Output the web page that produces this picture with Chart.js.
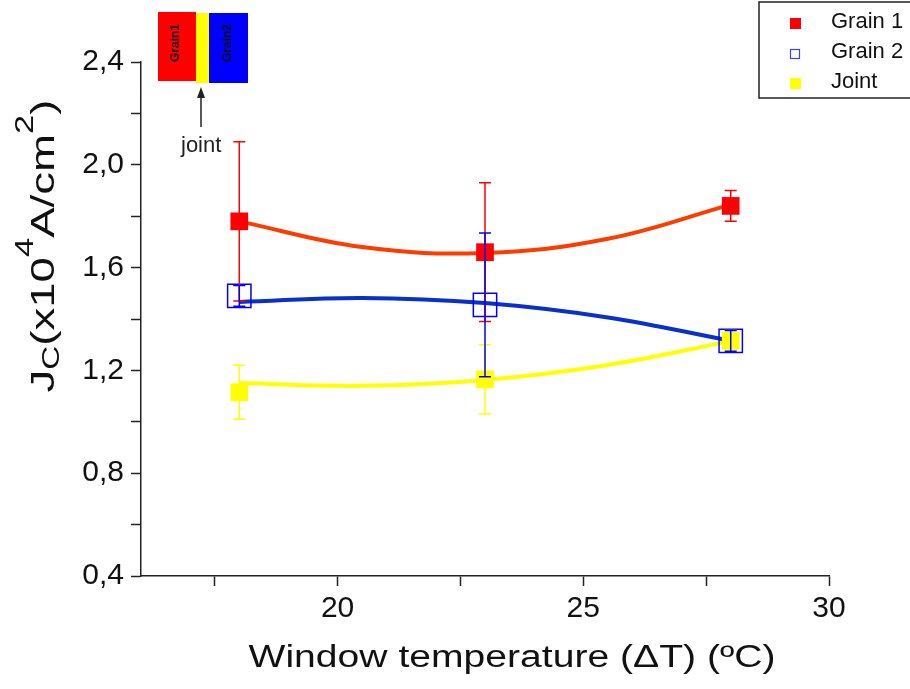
<!DOCTYPE html>
<html>
<head>
<meta charset="utf-8">
<script src="https://cdn.jsdelivr.net/npm/chart.js@4.4.1/dist/chart.umd.min.js"></script>
<style>
  body { margin: 0; background: #fff; }
</style>
</head>
<body>
<canvas id="myChart" width="910" height="689"></canvas>
<script>
// measured points
const temps = [18, 23, 28];
const grain1 = [1.78, 1.66, 1.84];
const grain1Err = [0.31, 0.27, 0.06];
const grain2 = [1.49, 1.455, 1.315];
const grain2Err = [0.04, 0.28, 0.04];
const joint = [1.115, 1.165, 1.315];
const jointErr = [0.105, 0.135, 0.04];

// fitted curves
const fitTemps = [18, 20.5, 23, 25.5, 28];
const grain1Fit = [1.78, 1.68, 1.657, 1.712, 1.845];
const grain2Fit = [1.466, 1.482, 1.462, 1.406, 1.315];
const jointFit = [1.151, 1.14, 1.163, 1.221, 1.314];

const legendItems = ['Grain 1', 'Grain 2', 'Joint'];

const pts = (xs, ys) => xs.map((x, i) => ({ x: x, y: ys[i] }));

const errorBars = {
  id: 'errorBars',
  afterDatasetsDraw(chart) {
    const { ctx, scales: { x, y } } = chart;
    chart.data.datasets.forEach((ds) => {
      if (!ds.errors) return;
      ctx.save();
      ctx.strokeStyle = ds.errorColor;
      ctx.lineWidth = 1.5;
      ds.data.forEach((p, i) => {
        const px = x.getPixelForValue(p.x);
        const top = y.getPixelForValue(p.y + ds.errors[i]);
        const bot = y.getPixelForValue(p.y - ds.errors[i]);
        ctx.beginPath();
        ctx.moveTo(px, top); ctx.lineTo(px, bot);
        ctx.moveTo(px - 6, top); ctx.lineTo(px + 6, top);
        ctx.moveTo(px - 6, bot); ctx.lineTo(px + 6, bot);
        ctx.stroke();
      });
      ctx.restore();
    });
  }
};

const extras = {
  id: 'extras',
  afterDraw(chart) {
    const ctx = chart.ctx;
    ctx.save();
    ctx.fillStyle = '#111';

    // x title
    ctx.font = '31px "Liberation Sans", Arial, sans-serif';
    const xt = 'Window temperature (\u0394T) (\u00baC)';
    const xw = ctx.measureText(xt).width;
    ctx.save();
    ctx.translate(512, 667);
    ctx.scale(527 / xw, 1);
    ctx.textAlign = 'center';
    ctx.textBaseline = 'alphabetic';
    ctx.fillText(xt, 0, 0);
    ctx.restore();

    // y title with sub/superscripts
    const parts = [
      { t: 'J', s: 33, dy: 0 },
      { t: 'C', s: 24, dy: 5 },
      { t: '(x10', s: 33, dy: 0 },
      { t: '4', s: 25, dy: -21 },
      { t: 'A/cm', s: 33, dy: 0 },
      { t: '2', s: 25, dy: -21 },
      { t: ')', s: 33, dy: 0 }
    ];
    let total = 0;
    parts.forEach((p) => {
      ctx.font = p.s + 'px "Liberation Sans", Arial, sans-serif';
      p.w = ctx.measureText(p.t).width;
      total += p.w;
    });
    ctx.save();
    ctx.translate(54, 246);
    ctx.rotate(-Math.PI / 2);
    ctx.scale(293 / total, 1);
    ctx.textBaseline = 'alphabetic';
    ctx.textAlign = 'left';
    let cx = -total / 2;
    parts.forEach((p) => {
      ctx.font = p.s + 'px "Liberation Sans", Arial, sans-serif';
      ctx.fillText(p.t, cx, p.dy);
      cx += p.w;
    });
    ctx.restore();

    // legend
    ctx.strokeStyle = '#222';
    ctx.lineWidth = 1.5;
    ctx.strokeRect(759, 2, 200, 96);
    const ly = [23, 53, 83];
    ctx.font = '22px "Liberation Sans", Arial, sans-serif';
    ctx.textBaseline = 'middle';
    ctx.textAlign = 'left';
    legendItems.forEach((name, i) => {
      ctx.fillStyle = '#111';
      ctx.fillText(name, 831, ly[i] - 1);
    });
    ctx.fillStyle = '#ff0000';
    ctx.fillRect(790, ly[0] - 5, 11, 11);
    ctx.strokeStyle = '#3344ff';
    ctx.lineWidth = 1.2;
    ctx.strokeRect(790.5, ly[1] - 3.5, 9, 9);
    ctx.fillStyle = '#ffff00';
    ctx.fillRect(790, ly[2] - 5, 11, 11);

    // sketch of the sample
    ctx.fillStyle = '#ff0000';
    ctx.fillRect(158, 12, 38, 69);
    ctx.fillStyle = '#ffff00';
    ctx.fillRect(196, 13, 13, 70);
    ctx.fillStyle = '#0000ff';
    ctx.fillRect(209, 13, 39, 70);
    ctx.fillStyle = '#111';
    ctx.font = 'bold 12px "Liberation Sans", Arial, sans-serif';
    ctx.textAlign = 'center';
    ctx.textBaseline = 'middle';
    [[176, 43, 'Grain1'], [228, 43, 'Grain2']].forEach(([tx, ty, s]) => {
      ctx.save();
      ctx.translate(tx, ty);
      ctx.rotate(-Math.PI / 2);
      ctx.fillText(s, 0, 0);
      ctx.restore();
    });
    ctx.strokeStyle = '#222';
    ctx.lineWidth = 1.5;
    ctx.beginPath();
    ctx.moveTo(201, 127); ctx.lineTo(201, 96);
    ctx.stroke();
    ctx.fillStyle = '#222';
    ctx.beginPath();
    ctx.moveTo(201, 87); ctx.lineTo(197, 98); ctx.lineTo(205, 98);
    ctx.closePath();
    ctx.fill();
    ctx.font = '22px "Liberation Sans", Arial, sans-serif';
    ctx.textAlign = 'left';
    ctx.textBaseline = 'alphabetic';
    ctx.fillText('joint', 181, 152);

    ctx.restore();
  }
};

const fitLine = (data, color) => ({
  data: data,
  showLine: true,
  borderColor: color,
  backgroundColor: color,
  borderWidth: 4,
  pointRadius: 0,
  tension: 0.4,
  order: 10
});

const ctx = document.getElementById('myChart').getContext('2d');
const myChart = new Chart(ctx, {
  type: 'scatter',
  data: {
    datasets: [
      fitLine(pts(fitTemps, grain1Fit), '#ff3c00'),
      fitLine(pts(fitTemps, grain2Fit), '#0a30cc'),
      fitLine(pts(fitTemps, jointFit), '#ffff00'),
      {
        label: 'Joint',
        data: pts(temps, joint),
        errors: jointErr,
        errorColor: '#ffff00',
        pointStyle: 'rect',
        pointRadius: 12.5,
        backgroundColor: '#ffff00',
        borderColor: '#ffff00',
        borderWidth: 0,
        order: 3
      },
      {
        label: 'Grain 1',
        data: pts(temps, grain1),
        errors: grain1Err,
        errorColor: '#ff0000',
        pointStyle: 'rect',
        pointRadius: 12.5,
        backgroundColor: '#ff0000',
        borderColor: '#ff0000',
        borderWidth: 0,
        order: 2
      },
      {
        label: 'Grain 2',
        data: pts(temps, grain2),
        errors: grain2Err,
        errorColor: '#0000ff',
        pointStyle: 'rect',
        pointRadius: 16.5,
        backgroundColor: 'rgba(0,0,0,0)',
        borderColor: '#0000ff',
        borderWidth: 1.5,
        order: 1
      }
    ]
  },
  options: {
    responsive: false,
    animation: false,
    layout: { padding: { top: 62, right: 81, left: 0, bottom: 0 } },
    plugins: {
      legend: { display: false },
      tooltip: { enabled: false }
    },
    scales: {
      x: {
        type: 'linear',
        min: 16,
        max: 30,
        afterFit: (scale) => { scale.height = 113; },
        border: { color: '#222', width: 1.5 },
        grid: { drawOnChartArea: false, tickLength: 10, tickColor: '#222', tickWidth: 1.5 },
        ticks: {
          stepSize: 2.5,
          includeBounds: false,
          padding: 5,
          color: '#111',
          font: { family: '"Liberation Sans", Arial, sans-serif', size: 30 },
          callback: (v) => (v % 5 === 0 ? String(v) : '')
        }
      },
      y: {
        min: 0.4,
        max: 2.4,
        afterFit: (scale) => { scale.width = 141; },
        border: { color: '#222', width: 1.5 },
        grid: { drawOnChartArea: false, tickLength: 10, tickColor: '#222', tickWidth: 1.5 },
        ticks: {
          stepSize: 0.2,
          padding: 7,
          color: '#111',
          font: { family: '"Liberation Sans", Arial, sans-serif', size: 30 },
          callback: (v) => (Math.round(v * 10) % 4 === 0 ? v.toFixed(1).replace('.', ',') : '')
        }
      }
    }
  },
  plugins: [errorBars, extras]
});
</script>
</body>
</html>
